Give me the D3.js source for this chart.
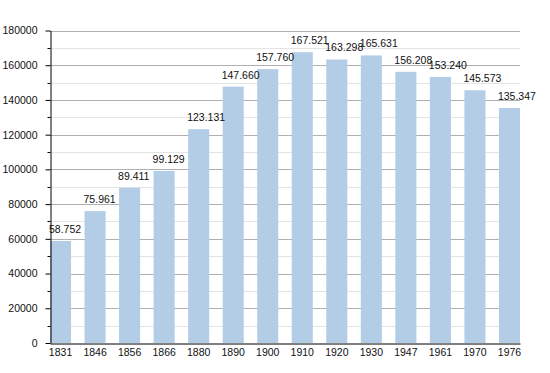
<!DOCTYPE html>
<html>
<head>
<meta charset="utf-8">
<script src="https://cdn.jsdelivr.net/npm/d3@7"></script>
<style>
  body { margin: 0; background: white; }
  text { font-family: "Liberation Sans", Arial, sans-serif; }
</style>
</head>
<body>
<div id="chart"></div>
<script>
var years = ["1831", "1846", "1856", "1866", "1880", "1890", "1900", "1910", "1920", "1930", "1947", "1961", "1970", "1976"];
var population = [58752, 75961, 89411, 99129, 123131, 147660, 157760, 167521, 163298, 165631, 156208, 153240, 145573, 135347];
var yTicks = [0, 20000, 40000, 60000, 80000, 100000, 120000, 140000, 160000, 180000];
var yMinorTicks = [10000, 30000, 50000, 70000, 90000, 110000, 130000, 150000, 170000];

var width = 550, height = 373;
var margin = { top: 30.5, right: 30, bottom: 30, left: 50 };

const svg = d3.select("#chart")
    .append("svg")
    .attr("width", width)
    .attr("height", height);

var x = d3.scaleBand()
    .domain(years)
    .range([margin.left, width - margin.right])
    .paddingInner(0.39)
    .paddingOuter(0);

var y = d3.scaleLinear()
    .domain([0, 180000])
    .range([height - margin.bottom, margin.top]);

// minor gridlines
svg.append("g")
    .selectAll("line")
    .data(yMinorTicks)
    .enter()
    .append("line")
    .attr("x1", margin.left)
    .attr("x2", width - margin.right)
    .attr("y1", function(d) { return Math.round(y(d)) + 0.5; })
    .attr("y2", function(d) { return Math.round(y(d)) + 0.5; })
    .attr("stroke", "#e4e4e4");

// major gridlines
svg.append("g")
    .selectAll("line")
    .data(yTicks.slice(1))
    .enter()
    .append("line")
    .attr("x1", margin.left)
    .attr("x2", width - margin.right)
    .attr("y1", function(d) { return Math.round(y(d)) + 0.5; })
    .attr("y2", function(d) { return Math.round(y(d)) + 0.5; })
    .attr("stroke", "#b0b0b0");

// bars
svg.selectAll("mybar")
    .data(years)
    .enter()
    .append("rect")
    .attr("x", function(d) { return x(d); })
    .attr("y", function(d, i) { return y(population[i]); })
    .attr("width", x.bandwidth())
    .attr("height", function(d, i) { return y(0) - y(population[i]); })
    .attr("fill", "#b3cde6");

// value labels
svg.selectAll("mylabel")
    .data(years)
    .enter()
    .append("text")
    .attr("x", function(d) { return x(d) - 1; })
    .attr("y", function(d, i) { return y(population[i]) - 8; })
    .style("font-size", "10.5px")
    .attr("fill", "#111")
    .text(function(d, i) { return d3.format(",")(population[i]).replace(/,/g, "."); });

// y axis
var yAxis = svg.append("g")
    .attr("transform", "translate(" + (margin.left + 0.5) + ",0)")
    .call(d3.axisLeft(y).tickValues(yTicks).tickFormat(d3.format("d"))
        .tickSize(5).tickPadding(8).tickSizeOuter(0));
yAxis.select(".domain").attr("stroke", "#000");
yAxis.selectAll("text").style("font-size", "10.5px").attr("fill", "#111")
    .style("font-family", "Liberation Sans, Arial, sans-serif");

svg.append("g")
    .attr("transform", "translate(" + (margin.left + 0.5) + ",0)")
    .selectAll("line")
    .data(yMinorTicks)
    .enter()
    .append("line")
    .attr("x1", -3)
    .attr("x2", 0)
    .attr("y1", function(d) { return Math.round(y(d)) + 0.5; })
    .attr("y2", function(d) { return Math.round(y(d)) + 0.5; })
    .attr("stroke", "#000");

// x axis
var xAxis = svg.append("g")
    .attr("transform", "translate(0," + (y(0) + 0.5) + ")")
    .call(d3.axisBottom(x).tickSize(0).tickPadding(5).tickSizeOuter(0));
xAxis.select(".domain").attr("stroke", "#000");
xAxis.selectAll("text").style("font-size", "10.5px").attr("fill", "#111")
    .style("font-family", "Liberation Sans, Arial, sans-serif");
</script>
</body>
</html>
